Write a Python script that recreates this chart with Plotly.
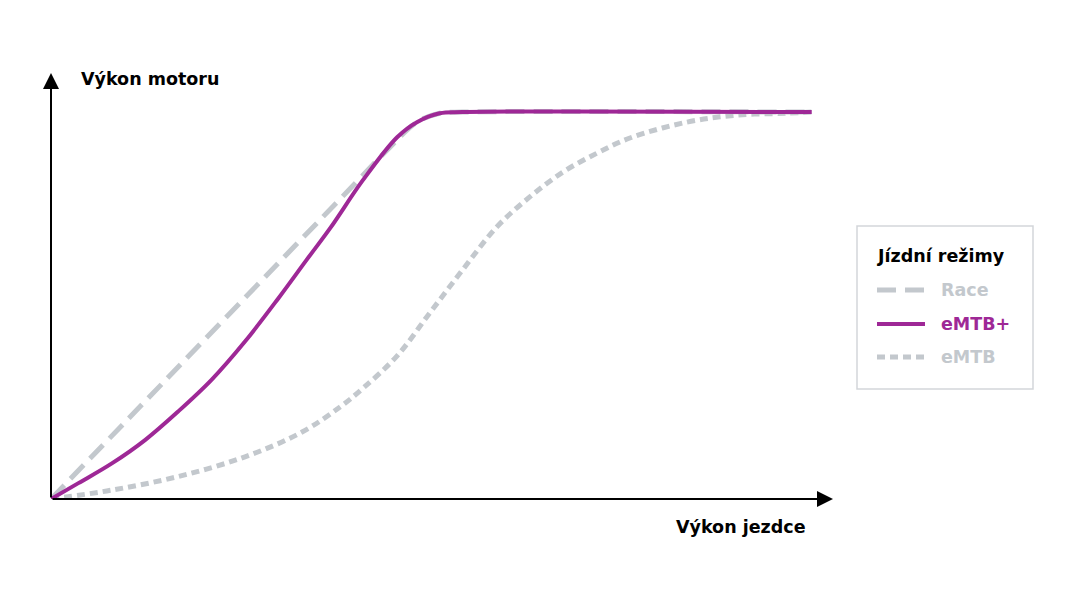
import plotly.graph_objects as go

# ---- data (rider power -> motor power, 0..100 normalised) ----
race_x = [0, 15, 30, 40, 44.5, 48.1, 51.1, 54.1, 100]
race_y = [0, 30.6, 61.2, 81.6, 90.8, 97.4, 99.7, 100, 100]

emtbplus_x = [0, 3.6, 8.0, 12.4, 16.7, 21.1, 25.5, 29.9, 33.6, 36.7, 41.0, 45.5, 48.1,
              51.1, 54.1, 100]
emtbplus_y = [0, 4.1, 9.2, 15.3, 22.6, 30.8, 40.7, 51.9, 61.8, 70.0, 82.4, 93.5, 97.4,
              99.7, 100, 100]

emtb_x = [0, 8.0, 16.7, 25.5, 33.0, 38.0, 41.0, 45.5, 49.8, 54.1, 58.6, 62.9, 67.3,
          71.8, 76.1, 83.6, 90.1, 96.7, 100]
emtb_y = [0, 2.3, 5.8, 10.9, 17.3, 23.8, 28.6, 37.0, 48.1, 59.2, 70.3, 78.0, 84.5,
          89.4, 93.3, 97.4, 99.2, 99.7, 100]

series_names = ["Race", "eMTB+", "eMTB"]
legend_title = "Jízdní režimy"
x_title = "Výkon jezdce"
y_title = "Výkon motoru"

PURPLE = "#9E2896"
GREY = "#C3C8CD"
FONT = "DejaVu Sans"
FS = 17.5

X_MAX = 102.8
Y_MAX = 110.1

fig = go.Figure()
fig.add_trace(go.Scatter(x=race_x, y=race_y, mode="lines", name=series_names[0],
                         line=dict(color=GREY, width=5, dash="19px,9px", shape="spline", smoothing=1.0),
                         hoverinfo="skip", showlegend=False))
fig.add_trace(go.Scatter(x=emtb_x, y=emtb_y, mode="lines", name=series_names[2],
                         line=dict(color=GREY, width=5, dash="8px,5px", shape="spline", smoothing=1.0),
                         hoverinfo="skip", showlegend=False))
fig.add_trace(go.Scatter(x=emtbplus_x, y=emtbplus_y, mode="lines", name=series_names[1],
                         line=dict(color=PURPLE, width=4, shape="spline", smoothing=1.0),
                         hoverinfo="skip", showlegend=False))

# axes drawn as arrows
for (hx, hy) in [(X_MAX, 0), (0, Y_MAX)]:
    fig.add_annotation(x=hx, y=hy, ax=0, ay=0, xref="x", yref="y", axref="x", ayref="y",
                       showarrow=True, arrowhead=2, arrowsize=1.6, arrowwidth=2,
                       arrowcolor="#000000", text="", standoff=0, startstandoff=0)


def px(x):
    return (x - 51) / 782


def py(y):
    return (499 - y) / 426


# axis titles
fig.add_annotation(x=px(79), y=py(79), xref="paper", yref="paper",
                   text=f"<b>{y_title}</b>", showarrow=False, xanchor="left", yanchor="middle",
                   font=dict(family=FONT, size=FS, color="#000000"))
fig.add_annotation(x=px(808), y=py(527), xref="paper", yref="paper",
                   text=f"<b>{x_title}</b>", showarrow=False, xanchor="right", yanchor="middle",
                   font=dict(family=FONT, size=FS, color="#000000"))

# legend (manual)
fig.add_shape(type="rect", xref="paper", yref="paper", x0=px(857), x1=px(1033), y0=py(389), y1=py(226),
              line=dict(color="#D3D6DA", width=1.5), fillcolor="rgba(0,0,0,0)")
fig.add_annotation(x=px(875), y=py(256), xref="paper", yref="paper", text=f"<b>{legend_title}</b>",
                   showarrow=False, xanchor="left", yanchor="middle",
                   font=dict(family=FONT, size=FS, color="#000000"))
legend_items = [(series_names[0], GREY, 5, "19px,9px", 290),
                (series_names[1], PURPLE, 4, "solid", 324),
                (series_names[2], GREY, 5, "8px,5px", 357)]
for name, col, w, dash, yy in legend_items:
    fig.add_shape(type="line", xref="paper", yref="paper", x0=px(877), x1=px(925), y0=py(yy), y1=py(yy),
                  line=dict(color=col, width=w, dash=dash))
    fig.add_annotation(x=px(939), y=py(yy), xref="paper", yref="paper", text=f"<b>{name}</b>",
                       showarrow=False, xanchor="left", yanchor="middle",
                       font=dict(family=FONT, size=FS, color=col))

fig.update_layout(
    width=1080, height=608,
    margin=dict(l=51, r=1080 - 833, t=73, b=608 - 499, pad=0),
    paper_bgcolor="#FFFFFF", plot_bgcolor="#FFFFFF",
    showlegend=False,
    xaxis=dict(range=[0, X_MAX], visible=False, fixedrange=True),
    yaxis=dict(range=[0, Y_MAX], visible=False, fixedrange=True),
)

fig.write_html("out.html", config={"displayModeBar": False},
               post_script="document.body.style.margin='0';document.body.style.overflow='hidden';")
